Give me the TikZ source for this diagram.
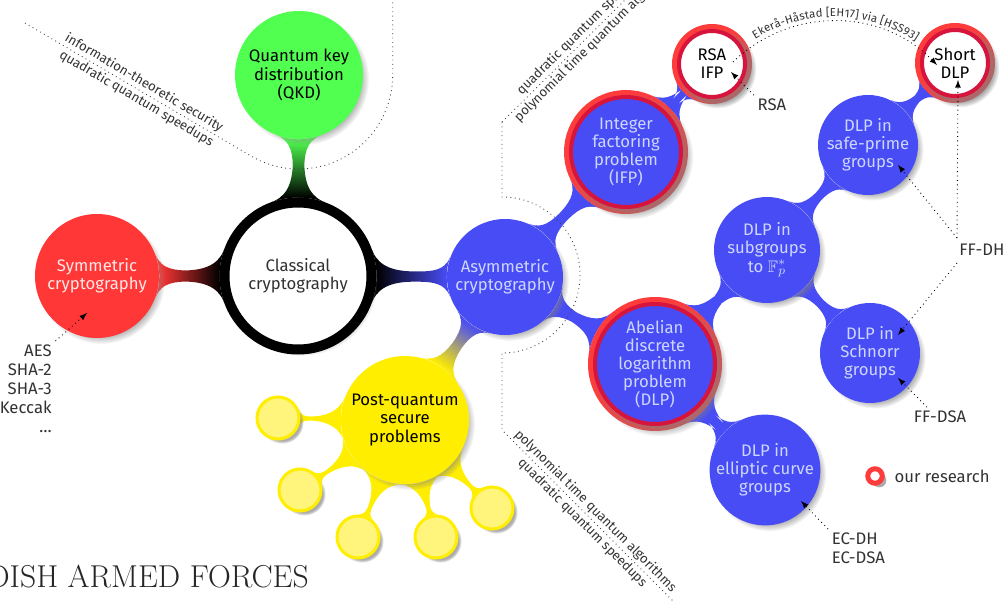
\documentclass[tikz,border=0pt]{standalone}
\usepackage{fontspec}
\usepackage{amssymb}
\usetikzlibrary{mindmap,shadows,decorations.text,positioning}

\newfontfamily\firasans{Fira Sans}

\definecolor{cryptblue}{RGB}{72,76,245}
\definecolor{bluetext}{RGB}{205,214,255}
\definecolor{symred}{RGB}{255,55,55}
\definecolor{qkdgreen}{RGB}{80,255,80}
\definecolor{pqyellow}{RGB}{255,238,0}
\definecolor{pqlight}{RGB}{255,245,125}
\definecolor{ringred}{RGB}{255,60,60}
\definecolor{ringdark}{RGB}{215,20,60}
\definecolor{notegray}{RGB}{50,50,50}

\pgfdeclarelayer{background}
\pgfsetlayers{background,main}

\tikzset{
  softshadow/.style={circular drop shadow={shadow xshift=0.8mm, shadow yshift=-0.8mm, shadow scale=#1, opacity=0.65}},
  softshadow/.default=1.03,
  topic/.style={circle, inner sep=0pt, align=center, text=notegray,
    font=\firasans\fontsize{9.5}{10.3}\selectfont},
  bluetopic/.style={topic, fill=cryptblue, text=bluetext},
  ringed/.style={draw=ringdark, line width=0.8mm, outer sep=1.4mm,
    preaction={draw=ringred, line width=2.8mm}},
  leaf/.style={topic, fill=pqlight, draw=pqyellow, line width=0.6mm, minimum size=8.4mm, softshadow},
  link/.style 2 args={circle connection bar switch color=from (#1) to (#2)},
  note/.style={dotted, line width=0.5pt, -latex},
  notelabel/.style={font=\firasans\fontsize{9.5}{10.8}\selectfont, text=notegray, inner sep=2pt},
  edgenote/.style={font=\firasans\fontsize{7.5}{9}\selectfont, text=notegray, inner sep=1pt},
  boundary/.style={dotted, line width=0.5pt, black!75},
}

\begin{document}
\begin{tikzpicture}
  \useasboundingbox (0,0) rectangle (20.12,12);

  % main concepts
  \node[topic, fill=white, draw=black, line width=2mm, minimum size=29.4mm, softshadow] (classic) at (5.96,6.48) {Classical\\cryptography};
  \node[topic, fill=symred, text=white!88!symred, minimum size=24.8mm, softshadow] (sym) at (1.94,6.48) {Symmetric\\cryptography};
  \node[topic, fill=qkdgreen, text=black, minimum size=25.6mm, softshadow] (qkd) at (5.98,10.5) {Quantum key\\distribution\\(QKD)};
  \node[bluetopic, minimum size=23.2mm, softshadow] (asym) at (10.1,6.46) {Asymmetric\\cryptography};
  \node[topic, fill=pqyellow, text=black, minimum size=25.6mm, softshadow] (pq) at (8.1,3.6) {Post-quantum\\secure\\problems};

  % post-quantum leaves
  \node[leaf] (pq1) at (5.56,3.64) {};
  \node[leaf] (pq2) at (6.0,2.2) {};
  \node[leaf] (pq3) at (7.16,1.26) {};
  \node[leaf] (pq4) at (8.72,1.26) {};
  \node[leaf] (pq5) at (9.84,1.84) {};

  % asymmetric branch
  \node[bluetopic, ringed, minimum size=22mm, softshadow=1.14] (ifp) at (12.52,8.96) {Integer\\factoring\\problem\\(IFP)};
  \node[bluetopic, ringed, minimum size=24mm, softshadow=1.13] (dlp) at (13.1,4.72) {Abelian\\discrete\\logarithm\\problem\\(DLP)};
  \node[topic, fill=white, text=black, ringed, minimum size=13.2mm, softshadow=1.2] (rsaifp) at (14.24,10.72) {RSA\\IFP};
  \node[topic, fill=white, text=black, ringed, minimum size=13.2mm, softshadow=1.2] (shortdlp) at (19.1,10.74) {Short\\DLP};
  \node[bluetopic, minimum size=21.2mm, softshadow] (subgrp) at (15.34,7.0) {DLP in\\subgroups\\to $\mathbb{F}_p^*$};
  \node[bluetopic, minimum size=20mm, softshadow] (safeprime) at (17.36,9.1) {DLP in\\safe-prime\\groups};
  \node[bluetopic, minimum size=20mm, softshadow] (schnorr) at (17.4,4.94) {DLP in\\Schnorr\\groups};
  \node[bluetopic, minimum size=20mm, softshadow] (ecgrp) at (15.3,2.6) {DLP in\\elliptic curve\\groups};

  % connection bars
  \begin{pgfonlayer}{background}
    \path (classic) to[link={black}{symred}] (sym);
    \path (classic) to[link={black}{qkdgreen}] (qkd);
    \path (classic) to[link={black}{cryptblue}] (asym);
    \path (asym) to[link={cryptblue}{pqyellow}] (pq);
    \foreach \a/\b in {asym/ifp, asym/dlp, ifp/rsaifp, dlp/subgrp, subgrp/safeprime,
                       subgrp/schnorr, safeprime/shortdlp, dlp/ecgrp}
      \path (\a) to[link={cryptblue}{cryptblue}] (\b);
    \foreach \n in {1,...,5}
      \path (pq) to[link={pqyellow}{pqyellow}] (pq\n);
  \end{pgfonlayer}

  % dotted borders
  \draw[boundary] (0.5,11.54) -- (5.02,8.88)
      node[pos=0.154, sloped, anchor=south west, edgenote] {information-theoretic security}
      node[pos=0.168, sloped, anchor=north west, edgenote] {quadratic quantum speedups}
    arc[start angle=239.5, end angle=360, radius=1.88] -- ++(0,1.7);
  \draw[boundary] (10.04,9.56) -- (12.6,12.1)
      node[pos=0.17, sloped, anchor=south west, edgenote] {quadratic quantum speedups}
      node[pos=0.055, sloped, anchor=north west, edgenote] {polynomial time quantum algorithms};
  \draw[boundary] (10.04,9.56) -- (10.04,8.06) arc[start angle=90, end angle=-90, radius=1.56]
    -- (10.04,3.4) -- (13.54,-0.1)
      node[pos=0.04, sloped, anchor=south west, edgenote] {polynomial time quantum algorithms}
      node[pos=0.13, sloped, anchor=north west, edgenote] {quadratic quantum speedups};

  % annotations
  \coordinate (symtip) at (1.74,5.74);
  \coordinate (rsatip) at (14.62,10.56);
  \coordinate (ekstart) at (14.66,10.76);
  \coordinate (ektip) at (18.74,10.7);
  \coordinate (shorttip) at (19.16,10.4);
  \coordinate (safetip) at (17.96,8.7);
  \coordinate (schnorrtip) at (17.96,5.3);
  \coordinate (ffdsatip) at (17.96,4.44);
  \coordinate (ectip) at (16.02,1.98);
  \coordinate (dhup) at (19.14,7.24);
  \coordinate (dhdown) at (19.14,6.74);

  \node[notelabel, align=right, anchor=north east] (symlist) at (1.11,5.18) {AES\\SHA-2\\SHA-3\\Keccak\\\dots\hspace{0.9mm}};
  \node[notelabel] (rsa) at (15.44,9.9) {RSA};
  \node[notelabel] (ffdh) at (19.64,7.0) {FF-DH};
  \node[notelabel] (ffdsa) at (18.8,3.66) {FF-DSA};
  \node[notelabel, align=left, anchor=north west] (eclist) at (16.56,1.42) {EC-DH\\EC-DSA};

  \draw[note] (symlist.north east) -- (symtip);
  \draw[note] (rsa.north west) -- (rsatip);
  \draw[note, postaction={decorate, decoration={text along path, text align=center, raise=2.5pt,
      text={|\firasans\fontsize{6.5}{7}\selectfont\color{notegray}|Ekerå-Håstad [EH17] via [HSS93]}}}]
    (ekstart) to[bend left=45] (ektip);
  \draw[note] (dhup) -- (shorttip);
  \draw[note] (dhup) -- (safetip);
  \draw[note] (dhdown) -- (schnorrtip);
  \draw[note] ([xshift=-2.6mm]ffdsa.north) -- (ffdsatip);
  \draw[note] (eclist.north west) -- (ectip);

  % legend
  \node[circle, draw=ringred, line width=1mm, fill=white, minimum size=2.9mm, inner sep=0pt, softshadow] (legend) at (17.5,2.48) {};
  \node[notelabel, right=1.2mm of legend] (legendtext) {our research};

  \node[anchor=base west, inner sep=0pt, font=\fontsize{18}{18}\selectfont, text=black!85] (footer) at (-0.26,0.26) {DISH ARMED FORCES};
\end{tikzpicture}
\end{document}
